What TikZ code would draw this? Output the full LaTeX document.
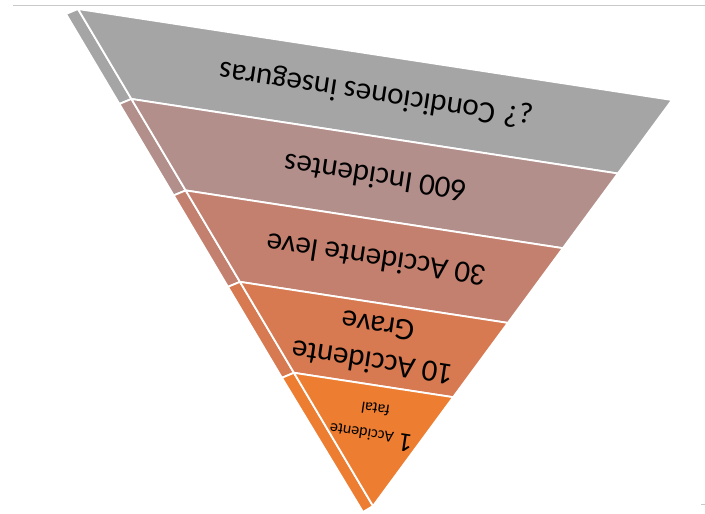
\documentclass[tikz,border=0pt]{standalone}
\usepackage{fontspec}
\setmainfont{Carlito}
\usetikzlibrary{calc}
\definecolor{bandA}{HTML}{A5A5A5}
\definecolor{bandB}{HTML}{B38F8B}
\definecolor{bandC}{HTML}{C4806F}
\definecolor{bandD}{HTML}{D77951}
\definecolor{bandE}{HTML}{ED7D31}
\definecolor{rulegray}{HTML}{C8C8C8}
\begin{document}
\begin{tikzpicture}[x=1pt,y=-1pt,
  bandfill/.style={draw=white, line width=1.8pt, line join=round},
  bandtext/.style={rotate=171.3, text=black, font=\fontsize{31}{37}\selectfont, align=center, inner sep=0pt}]
\useasboundingbox (0,0) rectangle (705,514);
% top rule and tiny mark
\draw[rulegray, line width=1pt] (13,5) -- (705,5);
\draw[rulegray, line width=1pt] (701,504) -- (705,504);
% main corners
\coordinate (L0) at (78,9);
\coordinate (R0) at (672,100);
\coordinate (AP) at (373,506);
\coordinate (L1) at ($(L0)!0.181!(AP)$);
\coordinate (L2) at ($(L0)!0.365!(AP)$);
\coordinate (L3) at ($(L0)!0.549!(AP)$);
\coordinate (L4) at ($(L0)!0.732!(AP)$);
\coordinate (R1) at ($(R0)!0.181!(AP)$);
\coordinate (R2) at ($(R0)!0.365!(AP)$);
\coordinate (R3) at ($(R0)!0.549!(AP)$);
\coordinate (R4) at ($(R0)!0.732!(AP)$);
% side strip outer points
\coordinate (S0) at ($(L0)+(-12,5)$);
\coordinate (S1) at ($(L1)+(-12,5)$);
\coordinate (S2) at ($(L2)+(-12,5)$);
\coordinate (S3) at ($(L3)+(-12,5)$);
\coordinate (S4) at ($(L4)+(-12,5)$);
\coordinate (S5) at ($(AP)+(-10,6)$);
% side strips
\filldraw[bandfill, fill=bandA] (L0) -- (L1) -- (S1) -- (S0) -- cycle;
\filldraw[bandfill, fill=bandB] (L1) -- (L2) -- (S2) -- (S1) -- cycle;
\filldraw[bandfill, fill=bandC] (L2) -- (L3) -- (S3) -- (S2) -- cycle;
\filldraw[bandfill, fill=bandD] (L3) -- (L4) -- (S4) -- (S3) -- cycle;
\filldraw[bandfill, fill=bandE] (L4) -- (AP) -- (S5) -- (S4) -- cycle;
% front bands
\filldraw[bandfill, fill=bandA] (L0) -- (R0) -- (R1) -- (L1) -- cycle;
\filldraw[bandfill, fill=bandB] (L1) -- (R1) -- (R2) -- (L2) -- cycle;
\filldraw[bandfill, fill=bandC] (L2) -- (R2) -- (R3) -- (L3) -- cycle;
\filldraw[bandfill, fill=bandD] (L3) -- (R3) -- (R4) -- (L4) -- cycle;
\filldraw[bandfill, fill=bandE] (L4) -- (R4) -- (AP) -- cycle;
% texts
\node[bandtext] (t1) at (376,94) {¿? Condiciones inseguras};
\node[bandtext] (t2) at (375,178) {600 Incidentes};
\node[bandtext] (t3) at (376,260) {30 Accidente leve};
\node[bandtext] (t4) at (375,345) {10 Accidente\\Grave};
\node[bandtext, font=\fontsize{16}{19}\selectfont] (t5) at (373,425) {{\fontsize{27}{30}\selectfont 1 }Accidente\\[7pt]fatal};
\end{tikzpicture}
\end{document}
